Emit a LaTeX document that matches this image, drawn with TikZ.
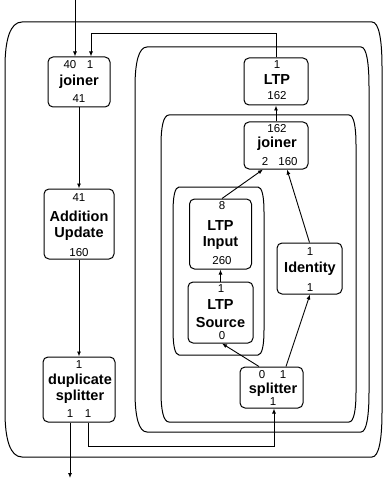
\documentclass[tikz,border=0pt]{standalone}
\usepackage{fontspec}
\setmainfont{Liberation Sans}
\usetikzlibrary{arrows.meta,calc}
\tikzset{
  box/.style={draw, line width=1pt, rounded corners=5pt, inner sep=0pt},
  cont/.style={draw, line width=1pt},
  nm/.style={font=\fontsize{14.5}{17}\selectfont\bfseries, anchor=base, inner sep=0pt},
  num/.style={font=\fontsize{11.5}{14}\selectfont, anchor=base, inner sep=0pt},
  arr/.style={line width=0.9pt, -{Latex[length=5pt,width=4pt]}},
}
% container: x1, x2, top, bottom, rx left, rx right, ry
\newcommand\contshape[7]{%
  \draw[cont] (#1+#5,#3) -- (#2-#6,#3)
    .. controls (#2-0.3*#6,#3) and (#2,#3+0.4*#7) .. (#2,#3+#7)
    -- (#2,#4-#7)
    .. controls (#2,#4-0.4*#7) and (#2-0.3*#6,#4) .. (#2-#6,#4)
    -- (#1+#5,#4)
    .. controls (#1+0.3*#5,#4) and (#1,#4-0.4*#7) .. (#1,#4-#7)
    -- (#1,#3+#7)
    .. controls (#1,#3+0.4*#7) and (#1+0.3*#5,#3) .. cycle;}
\begin{document}
\begin{tikzpicture}[x=1pt,y=-1pt]
\useasboundingbox (0,0) rectangle (383,481);

% containers
\contshape{5}{382}{22}{457}{17}{10}{45}
\contshape{135}{369}{47}{432}{12}{8}{40}
\contshape{161}{356}{115}{422}{8}{7}{30}
\contshape{173}{264}{187}{355}{6}{6}{25}

% boxes
\node[box, minimum width=62pt, minimum height=50pt] (joinerA) at (79,82) {};
\node[box, minimum width=70pt, minimum height=70pt] (add) at (79,224) {};
\node[box, minimum width=72pt, minimum height=65pt] (dup) at (79,389.5) {};
\node[box, minimum width=64pt, minimum height=47pt] (ltp) at (276,81.5) {};
\node[box, minimum width=64pt, minimum height=47pt] (joinerB) at (276,145.5) {};
\node[box, minimum width=62pt, minimum height=70pt] (input) at (220.5,234) {};
\node[box, minimum width=65pt, minimum height=61pt] (source) at (220.5,312.5) {};
\node[box, minimum width=65pt, minimum height=51pt] (identity) at (309.5,268.5) {};
\node[box, minimum width=63pt, minimum height=41pt] (splitter) at (271.5,387.5) {};

% texts: joiner (left)
\node[num] (jA1) at (70,69) {40};
\node[num] (jA2) at (90,69) {1};
\node[nm] (jAn) at (79,86) {joiner};
\node[num] (jA3) at (79,103) {41};
% addition update
\node[num] (ad1) at (79,201) {41};
\node[nm] (adn1) at (79,221) {Addition};
\node[nm] (adn2) at (79,237.5) {Update};
\node[num] (ad2) at (79,256) {160};
% duplicate splitter
\node[num] (du1) at (79,368) {1};
\node[nm] (dun1) at (80,384) {duplicate};
\node[nm] (dun2) at (80,400) {splitter};
\node[num] (du2) at (70,417) {1};
\node[num] (du3) at (88,417) {1};
% LTP
\node[num] (lt1) at (277,69) {1};
\node[nm] (ltn) at (277,85) {LTP};
\node[num] (lt2) at (277,99.5) {162};
% joiner (right)
\node[num] (jB1) at (277,133) {162};
\node[nm] (jBn) at (277,148) {joiner};
\node[num] (jB2) at (265,165.5) {2};
\node[num] (jB3) at (288,165.5) {160};
% LTP input
\node[num] (in1) at (222,209) {8};
\node[nm] (inn1) at (220.5,230) {LTP};
\node[nm] (inn2) at (220.5,246) {Input};
\node[num] (in2) at (222,264) {260};
% LTP source
\node[num] (so1) at (221,292) {1};
\node[nm] (son1) at (220.5,309) {LTP};
\node[nm] (son2) at (220.5,327) {Source};
\node[num] (so2) at (222,339) {0};
% identity
\node[num] (id1) at (310,255) {1};
\node[nm] (idn) at (310,272) {Identity};
\node[num] (id2) at (310,291) {1};
% splitter
\node[num] (sp1) at (262,378) {0};
\node[num] (sp2) at (283,378) {1};
\node[nm] (spn) at (273,393) {splitter};
\node[num] (sp3) at (273,405) {1};

% connectors
\coordinate (inA) at (75,0);
\draw[arr] (inA) -- (inA |- joinerA.north);
\coordinate (fbA) at (91,33);
\draw[arr] (ltp.north) |- (fbA) -- (fbA |- joinerA.north);
\draw[arr] (joinerA.south) -- (add.north);
\draw[arr] (add.south) -- (dup.north);
\coordinate (outA) at (70,478);
\draw[arr] (outA |- dup.south) -- (outA);
\coordinate (lpA) at (88,446);
\coordinate (lpB) at (274,446);
\draw[arr] (lpA |- dup.south) -- (lpA) -- (lpB) -- (lpB |- splitter.south);
\draw[arr] (joinerB.north) -- (ltp.south);
\draw[arr] ($(input.north)+(1.5,0)$) -- ($(joinerB.south)+(-13,0)$);
\draw[arr] (identity.north) -- ($(joinerB.south)+(11,0)$);
\draw[arr] (source.north) -- (input.south);
\draw[arr] ($(splitter.north)+(-12.5,0)$) -- ($(source.south)+(1.5,0)$);
\draw[arr] ($(splitter.north)+(14.5,0)$) -- ($(identity.south)+(0.5,0)$);
\end{tikzpicture}
\end{document}
